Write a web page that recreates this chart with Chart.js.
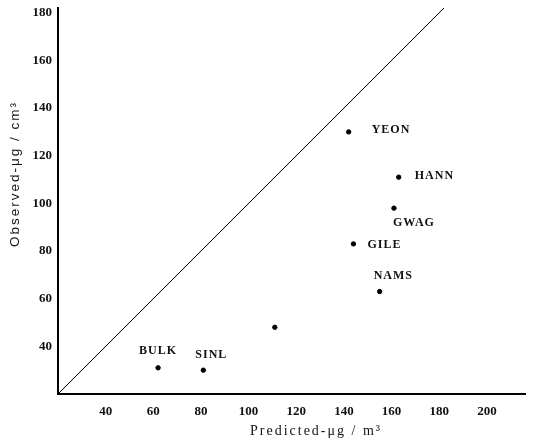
<!DOCTYPE html>
<html><head><meta charset="utf-8">
<script src="https://cdn.jsdelivr.net/npm/chart.js@4/dist/chart.umd.min.js"></script>
<style>html,body{margin:0;padding:0;background:#fff}#wrap{width:539px;height:443px}</style>
</head><body><div id="wrap"><canvas id="c" width="539" height="443"></canvas></div>
<script>
// ---- data ----
const siteLabels = ["BULK", "SINL", "", "YEON", "HANN", "GWAG", "GILE", "NAMS"];
const predicted  = [62, 81, 111, 142, 163, 161, 144, 155];
const observed   = [31, 30, 48, 130, 111, 98, 83, 63];
const diagonalX  = [20, 182];
const diagonalY  = [20, 182];
const xTicks = [40, 60, 80, 100, 120, 140, 160, 180, 200];
const yTicks = [40, 60, 80, 100, 120, 140, 160, 180];
const xTitle = "Predicted-\u03bcg / m\u00b3";
const yTitle = "Observed-\u03bcg / cm\u00b3";

// label placement (pixel offsets from each point; layout only)
const labelPlacement = [
  {dx: 0, dy: -17, align: "center"},
  {dx: 8, dy: -15, align: "center"},
  {dx: 0, dy: 0, align: "center"},
  {dx: 23, dy: -2, align: "left"},
  {dx: 16, dy: -1, align: "left"},
  {dx: -1, dy: 15, align: "left"},
  {dx: 14, dy: 1, align: "left"},
  {dx: -6, dy: -16, align: "left"}
];

const serif = "'Liberation Serif', 'DejaVu Serif', serif";

const pointLabels = {
  id: "pointLabels",
  afterDatasetsDraw(chart) {
    const ctx = chart.ctx;
    const meta = chart.getDatasetMeta(0);
    ctx.save();
    ctx.fillStyle = "#111";
    ctx.font = "bold 12px " + serif;
    ctx.letterSpacing = "1px";
    ctx.textBaseline = "middle";
    meta.data.forEach((pt, i) => {
      const t = siteLabels[i];
      if (!t) return;
      const p = labelPlacement[i];
      ctx.textAlign = p.align;
      ctx.fillText(t, pt.x + p.dx, pt.y + p.dy);
    });
    ctx.restore();
  }
};

const axisTitles = {
  id: "axisTitles",
  afterDraw(chart) {
    const ctx = chart.ctx;
    ctx.save();
    ctx.fillStyle = "#111";
    ctx.textAlign = "center";
    ctx.textBaseline = "middle";
    ctx.font = "14px " + serif;
    ctx.letterSpacing = "2px";
    ctx.fillText(xTitle, 316, 431);
    ctx.translate(15, 174);
    ctx.rotate(-Math.PI / 2);
    ctx.font = "13.5px 'Liberation Sans', Arial, sans-serif";
    ctx.letterSpacing = "2px";
    ctx.fillText(yTitle, 0, 0);
    ctx.restore();
  }
};

new Chart(document.getElementById("c"), {
  type: "scatter",
  data: {
    datasets: [
      {
        data: predicted.map((x, i) => ({x: x, y: observed[i]})),
        backgroundColor: "#000",
        borderColor: "#000",
        pointRadius: 2.2,
        pointHoverRadius: 2.2,
        showLine: false
      },
      {
        data: diagonalX.map((x, i) => ({x: x, y: diagonalY[i]})),
        showLine: true,
        borderColor: "#000",
        borderWidth: 1,
        pointRadius: 0,
        fill: false
      }
    ]
  },
  options: {
    responsive: false,
    animation: false,
    layout: {padding: {top: 8, right: 14, left: 0, bottom: 0}},
    plugins: {legend: {display: false}, tooltip: {enabled: false}},
    scales: {
      x: {
        type: "linear", min: 20, max: 216,
        grid: {display: false, drawTicks: false, tickLength: 0},
        border: {display: true, color: "#000", width: 2},
        ticks: {color: "#111", padding: 10, font: {family: serif, size: 13, weight: "bold"}, maxRotation: 0},
        afterBuildTicks(s) { s.ticks = xTicks.map(v => ({value: v})); },
        afterFit(s) { s.height = 49; s.paddingLeft = 0; s.paddingRight = 0; }
      },
      y: {
        type: "linear", min: 20, max: 182,
        grid: {display: false, drawTicks: false, tickLength: 0},
        border: {display: true, color: "#000", width: 2},
        ticks: {color: "#111", padding: 6, font: {family: serif, size: 13, weight: "bold"}},
        afterBuildTicks(s) { s.ticks = yTicks.map(v => ({value: v})); },
        afterFit(s) { s.width = 58; s.paddingTop = 0; s.paddingBottom = 0; }
      }
    }
  },
  plugins: [pointLabels, axisTitles]
});
</script>
</body></html>
